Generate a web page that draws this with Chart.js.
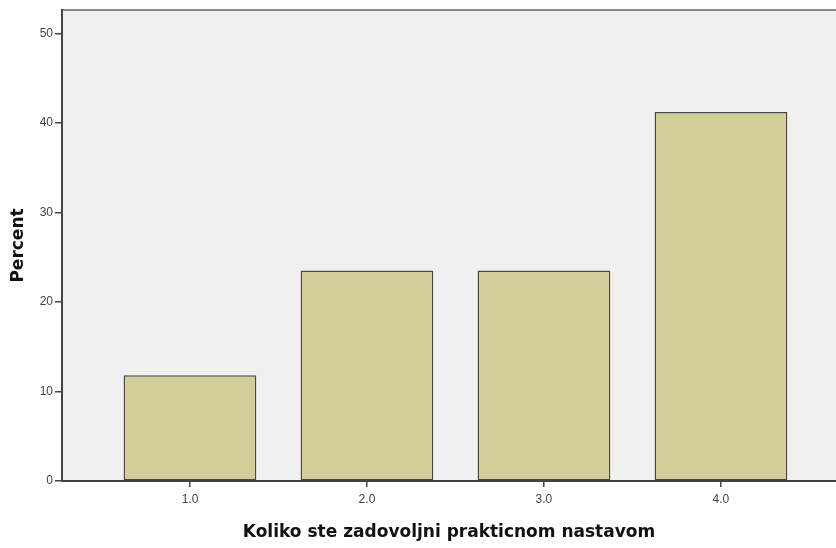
<!DOCTYPE html>
<html>
<head>
<meta charset="utf-8">
<script src="https://cdn.jsdelivr.net/npm/chart.js@4.4.1/dist/chart.umd.min.js"></script>
<style>
  html, body { margin: 0; padding: 0; background: #fff; }
  #wrap { width: 836px; height: 548px; }
</style>
</head>
<body>
<div id="wrap"><canvas id="myChart" width="836" height="548"></canvas></div>
<script>
// answers (1..4) and percent of respondents
let categories = [1, 2, 3, 4];
let percent = [11.8, 23.5, 23.5, 41.2];
let yTicks = [0, 10, 20, 30, 40, 50];

// plot area background + top frame line
const frame = {
  id: 'frame',
  beforeDraw(chart) {
    let a = chart.chartArea, c = chart.ctx;
    c.save();
    c.fillStyle = '#f0f0f0';
    c.fillRect(a.left, a.top, a.right - a.left, a.bottom - a.top);
    c.strokeStyle = '#8a8a8a';
    c.lineWidth = 2;
    c.beginPath();
    c.moveTo(a.left, a.top);
    c.lineTo(a.right, a.top);
    c.stroke();
    c.restore();
  }
};

let ctx = document.getElementById("myChart");
let myChart = new Chart(ctx, {
  type: 'bar',
  data: {
    datasets: [{
      label: 'Percent',
      data: categories.map((c, i) => ({ x: c, y: percent[i] })),
      backgroundColor: 'rgb(211, 206, 151)',
      borderColor: '#4a4a40',
      borderWidth: 1.5,
      borderSkipped: false,
      barPercentage: 1,
      categoryPercentage: 0.75
    }]
  },
  options: {
    responsive: false,
    animation: false,
    layout: { padding: { top: 10, left: 0, right: 0, bottom: 0 } },
    plugins: { legend: { display: false }, tooltip: { enabled: false } },
    scales: {
      x: {
        type: 'linear',
        offset: false,
        min: 0.277,
        max: 4.65,
        afterBuildTicks(s) { s.ticks = categories.map(v => ({ value: v })); },
        afterFit(s) { s.height = 67; },
        grid: { offset: false, drawOnChartArea: false, drawTicks: true, tickLength: 6, color: '#444', lineWidth: 1.5 },
        border: { display: true, color: '#444', width: 2 },
        ticks: {
          callback: v => Number(v).toFixed(1),
          color: '#444',
          font: { family: 'Arial, "Liberation Sans", sans-serif', size: 12 },
          padding: 5,
          maxRotation: 0
        },
        title: {
          display: true,
          text: 'Koliko ste zadovoljni prakticnom nastavom',
          color: '#111',
          font: { family: '"DejaVu Sans", sans-serif', size: 17, weight: 'bold' },
          padding: { top: 4, bottom: 5 }
        }
      },
      y: {
        min: 0,
        max: 52.6,
        afterBuildTicks(s) { s.ticks = yTicks.map(v => ({ value: v })); },
        afterFit(s) { s.width = 62; },
        grid: { drawOnChartArea: false, drawTicks: true, tickLength: 7, color: '#444', lineWidth: 1.5 },
        border: { display: true, color: '#444', width: 2 },
        ticks: {
          color: '#444',
          font: { family: 'Arial, "Liberation Sans", sans-serif', size: 12 },
          padding: 2
        },
        title: {
          display: true,
          text: 'Percent',
          color: '#111',
          font: { family: '"DejaVu Sans", sans-serif', size: 17, weight: 'bold' },
          padding: { top: 8, bottom: 6 }
        }
      }
    }
  },
  plugins: [frame]
});
</script>
</body>
</html>
